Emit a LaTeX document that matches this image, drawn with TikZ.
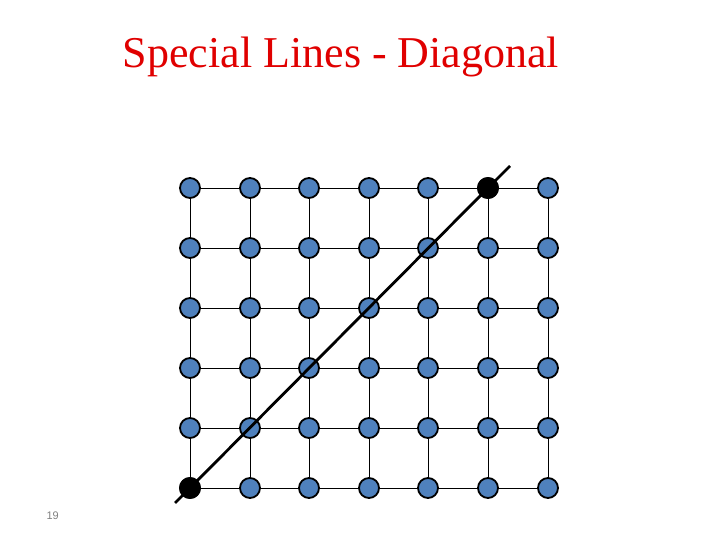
\documentclass[tikz,border=0pt]{standalone}
\usepackage{fontspec}
\setmainfont{Liberation Serif}
\newfontfamily\numfont{Liberation Sans}
\definecolor{dotblue}{HTML}{4F81BD}
\definecolor{titlered}{HTML}{E00000}
\begin{document}
\begin{tikzpicture}[x=1pt,y=1pt,
  dot/.style={circle,draw=black,line width=1.8pt,fill=dotblue,minimum size=20pt,inner sep=0pt},
  blackdot/.style={dot,fill=black},
  gridline/.style={line width=0.9pt},
  diag/.style={line width=2.8pt}]
\useasboundingbox (0,0) rectangle (720,540);
\node[anchor=base,text=titlered,font=\fontsize{44}{50}\selectfont] (title) at (341,472) {Special Lines - Diagonal};
\node[anchor=base west,text=gray,font=\numfont\fontsize{11}{12}\selectfont] (pg) at (43,20) {19};
% grid coordinates
\foreach \c [count=\i] in {190,250,309,369,428,488,548}{
  \foreach \r [count=\j] in {188,248,308,368,428,488}{
    \coordinate (p\i-\j) at (\c,540-\r);
  }
}
% grid lines
\foreach \j in {1,...,6}{\draw[gridline] (p1-\j) -- (p7-\j);}
\foreach \i in {1,...,7}{\draw[gridline] (p\i-1) -- (p\i-6);}
% nodes
\foreach \i in {1,...,7}{
  \foreach \j in {1,...,6}{
    \node[dot] (n\i-\j) at (p\i-\j) {};
  }
}
\node[blackdot] (a) at (p1-6) {};
\node[blackdot] (b) at (p6-1) {};
\coordinate (s) at (175,540-503);
\coordinate (e) at (510,540-166);
\draw[diag] (s) -- (a.center) -- (b.center) -- (e);
\end{tikzpicture}
\end{document}
